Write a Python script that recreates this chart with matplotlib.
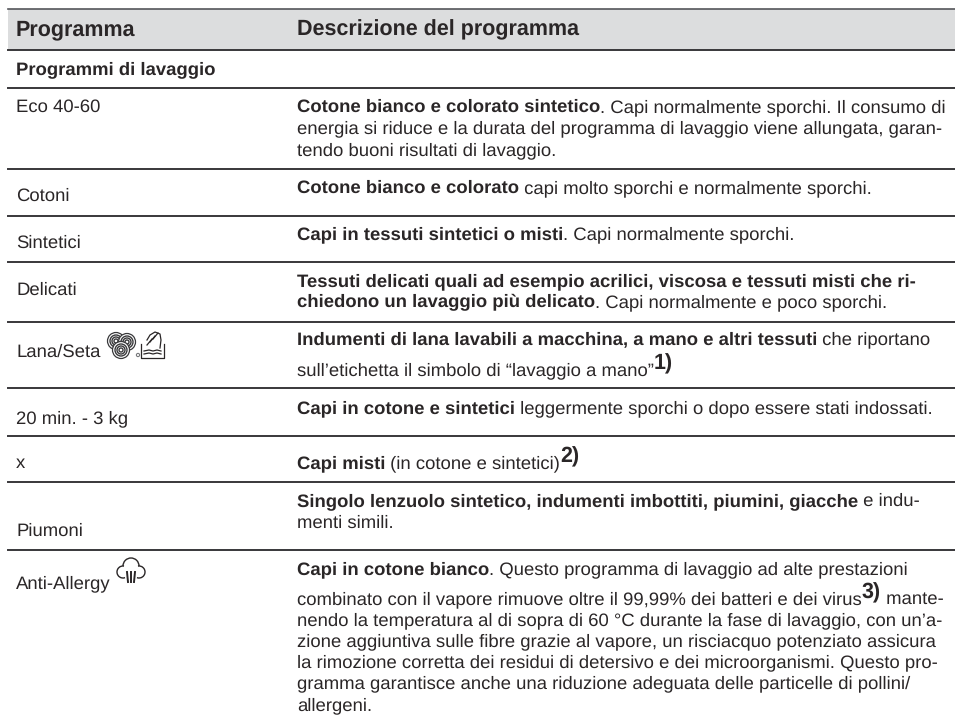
import matplotlib
matplotlib.use('Agg')
import matplotlib.pyplot as plt
from matplotlib.patches import Arc, Rectangle, Circle

TEXT = '#2a2627'
LINE = '#38373a'
HEAD = '#dcddde'
FS = 13.3

plt.rcParams['font.family'] = ['Liberation Sans', 'DejaVu Sans']
plt.rcParams['text.hinting'] = 'no_hinting'

headers = ['Programma', 'Descrizione del programma']
section = 'Programmi di lavaggio'
programs = ['Eco 40-60', 'Cotoni', 'Sintetici', 'Delicati', 'Lana/Seta', '20 min. - 3 kg', 'x', 'Piumoni', 'Anti-Allergy']
# ogni riga: lista di (testo, stile) con b=grassetto r=normale s=apice
descriptions = [
    [[('Cotone bianco e colorato sintetico', 'b'), ('. Capi normalmente sporchi. Il consumo di', 'r')],
     [('energia si riduce e la durata del programma di lavaggio viene allungata, garan-', 'r')],
     [('tendo buoni risultati di lavaggio.', 'r')]],
    [[('Cotone bianco e colorato', 'b'), (' capi molto sporchi e normalmente sporchi.', 'r')]],
    [[('Capi in tessuti sintetici o misti', 'b'), ('. Capi normalmente sporchi.', 'r')]],
    [[('Tessuti delicati quali ad esempio acrilici, viscosa e tessuti misti che ri-', 'b')],
     [('chiedono un lavaggio più delicato', 'b'), ('. Capi normalmente e poco sporchi.', 'r')]],
    [[('Indumenti di lana lavabili a macchina, a mano e altri tessuti', 'b'), (' che riportano', 'r')],
     [('sull’etichetta il simbolo di “lavaggio a mano”', 'r'), ('1)', 's')]],
    [[('Capi in cotone e sintetici', 'b'), (' leggermente sporchi o dopo essere stati indossati.', 'r')]],
    [[('Capi misti', 'b'), (' (in cotone e sintetici)', 'r'), ('2)', 's')]],
    [[('Singolo lenzuolo sintetico, indumenti imbottiti, piumini, giacche', 'b'), (' e indu-', 'r')],
     [('menti simili.', 'r')]],
    [[('Capi in cotone bianco', 'b'), ('. Questo programma di lavaggio ad alte prestazioni', 'r')],
     [('combinato con il vapore rimuove oltre il 99,99% dei batteri e dei virus', 'r'), ('3)', 's'), (' mante-', 'r')],
     [('nendo la temperatura al di sopra di 60 °C durante la fase di lavaggio, con un’a-', 'r')],
     [('zione aggiuntiva sulle fibre grazie al vapore, un risciacquo potenziato assicura', 'r')],
     [('la rimozione corretta dei residui di detersivo e dei microorganismi. Questo pro-', 'r')],
     [('gramma garantisce anche una riduzione adeguata delle particelle di pollini/', 'r')],
     [('allergeni.', 'r')]],
]
rule_ys = [50, 88, 169, 216, 262, 322, 388, 436, 482, 550]
name_ys = [112, 201, 248, 295, 357, 423, 468, 536, 588]
desc_ys = [[112, 133, 155], [193], [239], [286, 307], [344, 375], [413], [468], [506, 528],
           [574, 604, 625, 646, 667, 688, 710]]

fig = plt.figure(figsize=(9.55, 7.21), dpi=100)
ax = fig.add_axes([0, 0, 1, 1])
ax.set_xlim(0, 955)
ax.set_ylim(721, 0)
ax.axis('off')
renderer = fig.canvas.get_renderer()


def draw_runs(x, y, runs):
    for txt, style in runs:
        weight = 'bold' if style in 'bs' else 'normal'
        size = 15.5 if style == 's' else FS
        dy = -6 if style == 's' else 0
        ax.text(x, y + dy, txt, fontsize=size, fontweight=weight, color=TEXT, va='baseline', ha='left')
        bar = ax.text(0, 0, '|', fontsize=size, fontweight=weight, alpha=0)
        both = ax.text(0, 0, txt + '|', fontsize=size, fontweight=weight, alpha=0)
        x += both.get_window_extent(renderer).width - bar.get_window_extent(renderer).width
        bar.remove()
        both.remove()


def wool_mark(cx, cy):
    # tre lobi sovrapposti di cerchi concentrici
    for dx, dy in [(-5, -4), (6, -3), (0, 5)]:
        ax.add_patch(Circle((cx + dx, cy + dy), 8.5, fc='white', ec='#3a3a3c', lw=0.9, zorder=3))
        for r in [2, 4, 6]:
            ax.add_patch(Circle((cx + dx, cy + dy), r, fc='none', ec='#3a3a3c', lw=1.0, zorder=3))
    ax.add_patch(Circle((cx + 17, cy + 10), 1.6, fc='none', ec='#77787b', lw=0.8))


def hand_tub(x, y):
    ax.plot([x, x, x + 23, x + 23], [y + 13, y + 27, y + 27, y + 13], color=TEXT, lw=0.9)
    for k in [20, 23]:
        ax.plot([x + 3, x + 8, x + 12, x + 16, x + 20], [y + k, y + k - 1, y + k, y + k - 1, y + k], color=TEXT, lw=0.9)
    ax.plot([x + 6, x + 9, x + 14, x + 19, x + 20, x + 19], [y + 9, y + 4, y + 1, y + 3, y + 9, y + 17], color=TEXT, lw=0.9)
    for k in [0, 3, 6]:
        ax.plot([x + 6 + k, x + 11 + k], [y + 14 - k, y + 8 - k], color=TEXT, lw=0.9)


def steam_cloud(cx, cy):
    ax.add_patch(Arc((cx, cy - 5), 16, 16, theta1=180, theta2=360, color=TEXT, lw=1.0))
    ax.add_patch(Arc((cx - 8, cy + 1), 12, 12, theta1=70, theta2=280, color=TEXT, lw=1.0))
    ax.add_patch(Arc((cx + 8, cy + 1), 12, 12, theta1=-100, theta2=110, color=TEXT, lw=1.0))
    for top, bot in [(-4, -3), (0, 0), (4, 3)]:
        ax.plot([cx + top, cx + bot], [cy + 1, cy + 11], color=TEXT, lw=1.4)


ax.add_patch(Rectangle((8, 9), 947, 41, fc=HEAD, ec='none'))
ax.plot([8, 955], [9, 9], color='#55565a', lw=1.2)
for yy in rule_ys:
    ax.plot([8, 955], [yy, yy], color=LINE, lw=1.4)

ax.text(16, 35, headers[0], fontsize=15.5, fontweight='bold', color=TEXT, va='baseline')
ax.text(297, 35, headers[1], fontsize=15.5, fontweight='bold', color=TEXT, va='baseline')
ax.text(16, 74, section, fontsize=FS, fontweight='bold', color=TEXT, va='baseline')

for name, yy in zip(programs, name_ys):
    ax.text(16, yy, name, fontsize=FS, color=TEXT, va='baseline')

for lines, ys in zip(descriptions, desc_ys):
    for runs, yy in zip(lines, ys):
        draw_runs(297, yy, runs)

wool_mark(121, 345)
hand_tub(141, 331)
steam_cloud(131, 571)

fig.savefig('out.png', dpi=100)
